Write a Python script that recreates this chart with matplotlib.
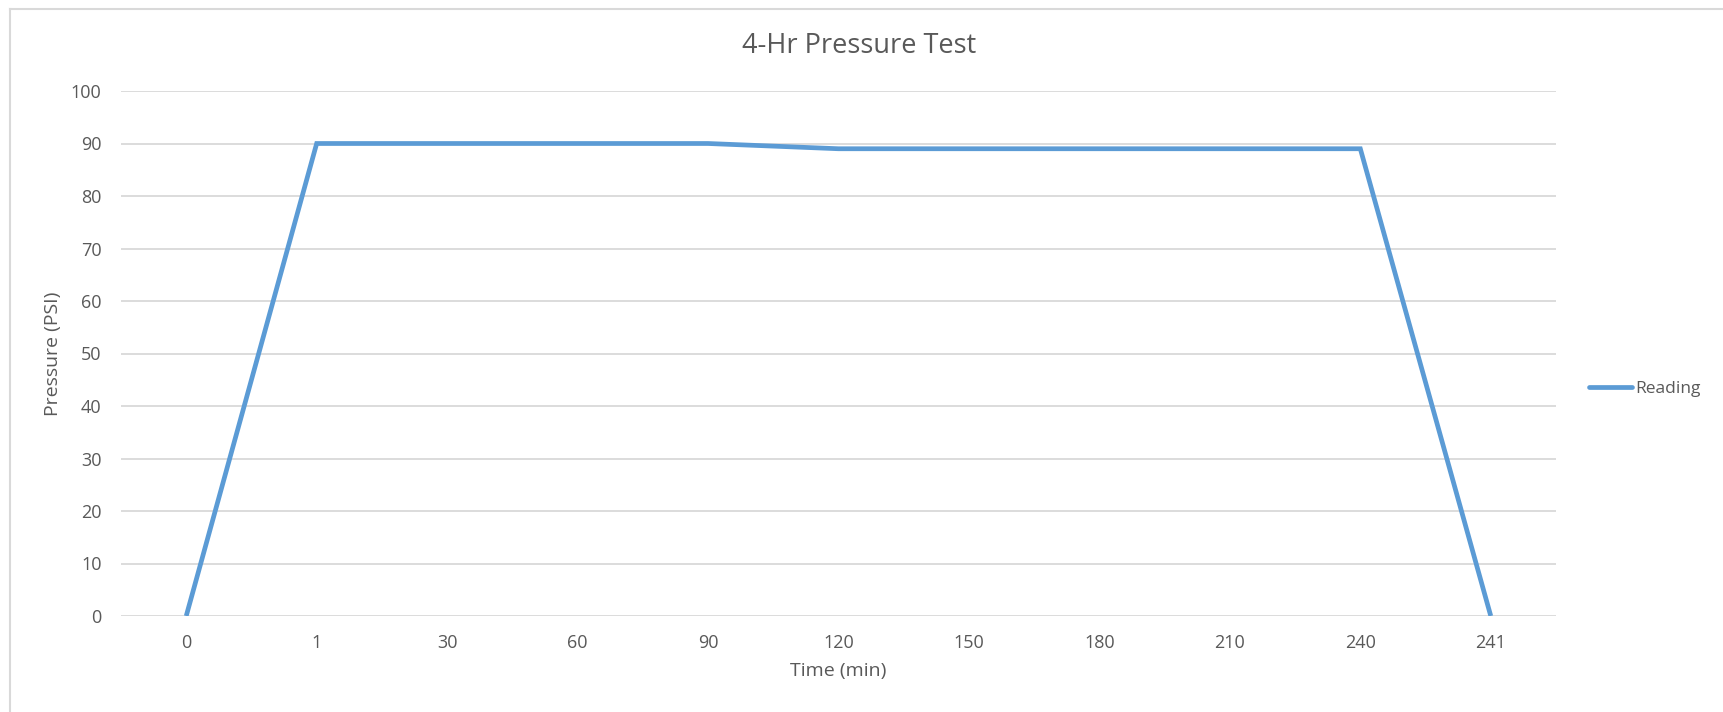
import matplotlib
matplotlib.use("Agg")
import matplotlib.pyplot as plt
from matplotlib.lines import Line2D

plt.rcParams['font.family'] = ['Open Sans', 'DejaVu Sans']

# data
time_labels = ["0", "1", "30", "60", "90", "120", "150", "180", "210", "240", "241"]
pressure = [0, 90, 90, 90, 90, 89, 89, 89, 89, 89, 0]
y_ticks = list(range(0, 101, 10))

text_color = '#595959'
grid_color = '#D9D9D9'
line_color = '#5B9BD5'

fig = plt.figure(figsize=(17.24, 7.12), dpi=100)
ax = fig.add_axes([121 / 1724, 1 - 616 / 712, 1435 / 1724, (616 - 91) / 712])

x = list(range(len(time_labels)))
line, = ax.plot(x, pressure, color=line_color, linewidth=3.4, solid_capstyle='butt',
                solid_joinstyle='miter', label='Reading', zorder=3)

ax.set_xlim(-0.5, len(time_labels) - 0.5)
ax.set_ylim(0, 100)
ax.set_yticks(y_ticks)
ax.set_xticks(x)
ax.set_xticklabels(time_labels)
ax.tick_params(axis='both', length=0, labelsize=13, colors=text_color)
ax.tick_params(axis='x', pad=13)
ax.tick_params(axis='y', pad=14)

ax.grid(True, axis='y', color=grid_color, linewidth=1.3)
ax.set_axisbelow(True)
for s in ax.spines.values():
    s.set_visible(False)

ax.set_xlabel('Time (min)', fontsize=14, color=text_color, labelpad=7)
ax.set_ylabel('Pressure (PSI)', fontsize=14, color=text_color, labelpad=6)
fig.text(859 / 1724, 1 - 46 / 712, '4-Hr Pressure Test', ha='center', va='center',
         fontsize=19.5, color=text_color)

fig.legend(handles=[Line2D([], [], color=line_color, linewidth=3.4, solid_capstyle='round')],
           labels=['Reading'], loc='center left', bbox_to_anchor=(1589 / 1724, 1 - 389 / 712),
           frameon=False, fontsize=12.5, labelcolor=text_color, handlelength=2.5,
           handletextpad=0.15, borderpad=0, borderaxespad=0)

# chart area border (left and top visible)
fig.add_artist(Line2D([10 / 1724, 10 / 1724], [0, 1 - 9 / 712], transform=fig.transFigure,
                      color=grid_color, linewidth=1.5))
fig.add_artist(Line2D([10 / 1724, 1], [1 - 9 / 712, 1 - 9 / 712], transform=fig.transFigure,
                      color=grid_color, linewidth=1.5))

fig.savefig('out.png', dpi=100)
